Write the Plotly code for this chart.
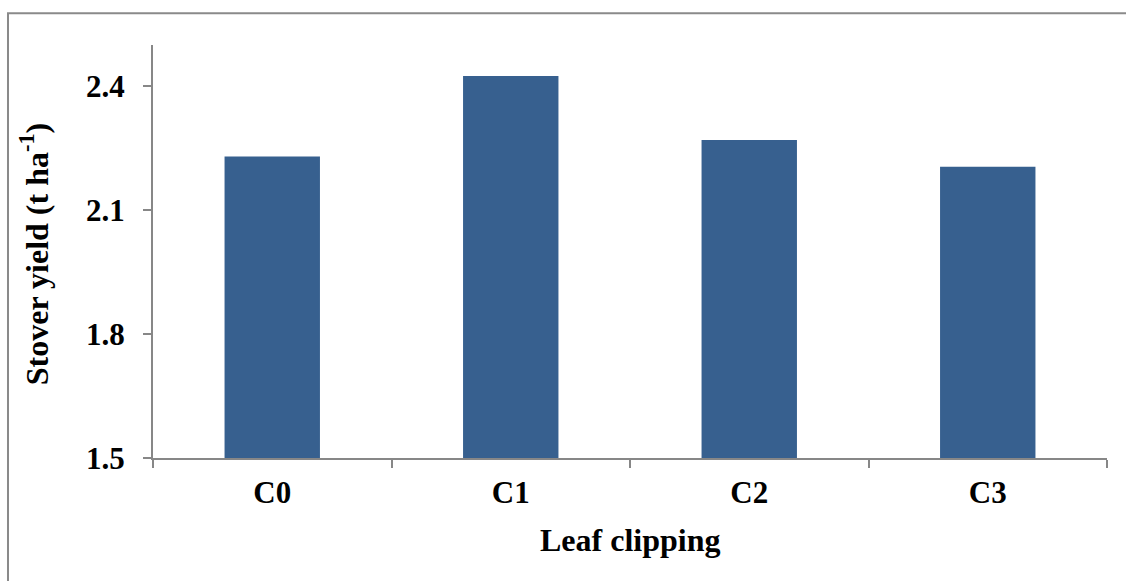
import plotly.graph_objects as go

categories = ["C0", "C1", "C2", "C3"]
stover_yield = [2.23, 2.425, 2.27, 2.205]
y_ticks = [1.5, 1.8, 2.1, 2.4]

font_family = "Liberation Serif, Times New Roman, serif"
axis_color = "#878787"

fig = go.Figure(
    go.Bar(x=categories, y=stover_yield, marker=dict(color="#37608F", line=dict(width=0)))
)

fig.update_layout(
    width=1126, height=581,
    margin=dict(l=153, r=19, t=45, b=123),
    paper_bgcolor="white", plot_bgcolor="white",
    bargap=0.6,
    showlegend=False,
    font=dict(family=font_family, size=31, color="black"),
    shapes=[dict(type="rect", xref="paper", yref="paper",
                 x0=-0.152, x1=1.5, y0=-1.0, y1=1.077,
                 line=dict(color="#8a8a8a", width=2), fillcolor="rgba(0,0,0,0)",
                 layer="below")],
    annotations=[
        dict(text="<b>Leaf clipping</b>", xref="paper", yref="paper", x=0.5, y=-0.199,
             xanchor="center", yanchor="middle", showarrow=False,
             font=dict(family=font_family, size=32, color="black")),
        dict(text="<b>Stover yield (t ha<sup>-1</sup>)</b>", xref="paper", yref="paper",
             x=-0.1245, y=0.494, xanchor="center", yanchor="middle", textangle=-90,
             showarrow=False, font=dict(family=font_family, size=32, color="black")),
    ],
)

fig.update_xaxes(
    showline=True, linecolor=axis_color, linewidth=2,
    ticks="outside", ticklen=8, tickcolor=axis_color, tickwidth=2,
    tickson="boundaries", showgrid=False, ticklabelstandoff=6,
    tickfont=dict(family=font_family, size=31, color="black", weight="bold"),
)

fig.update_yaxes(
    range=[1.5, 2.5], tickvals=y_ticks, ticktext=[f"{v:.1f}" for v in y_ticks],
    showline=True, linecolor=axis_color, linewidth=2,
    ticks="outside", ticklen=8, tickcolor=axis_color, tickwidth=2,
    showgrid=False, zeroline=False, ticklabelstandoff=12,
    tickfont=dict(family=font_family, size=31, color="black", weight="bold"),
)

fig.write_html("out.html", config={"displayModeBar": False},
               post_script="document.body.style.margin='0';")
